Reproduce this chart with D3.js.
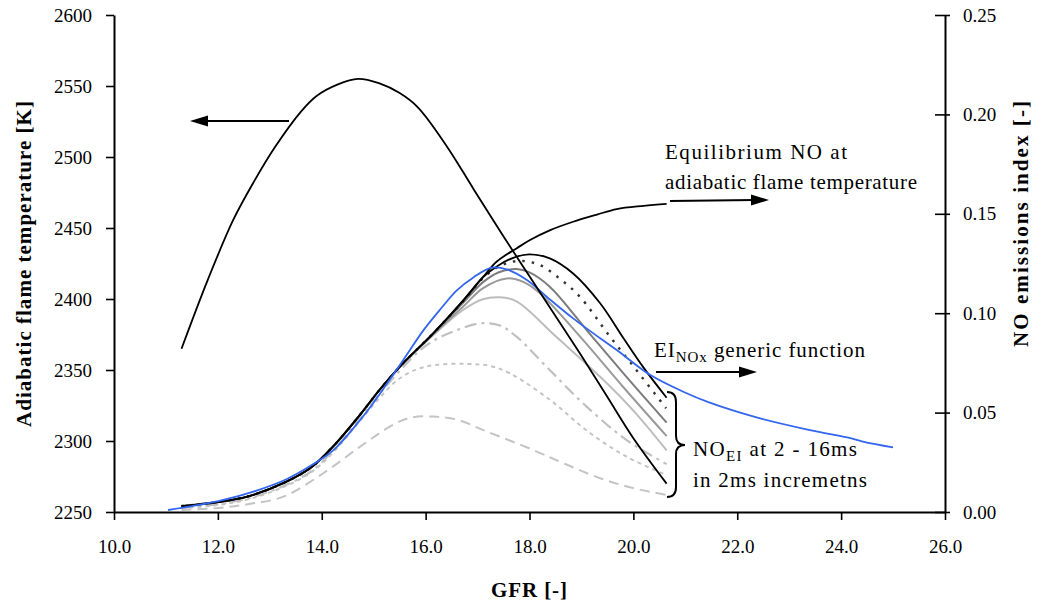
<!DOCTYPE html>
<html>
<head>
<meta charset="utf-8">
<script src="https://cdn.jsdelivr.net/npm/d3@7"></script>
<style>
  body { margin: 0; background: #fff; }
  svg text { font-family: "Liberation Serif", "Noto Serif", "DejaVu Serif", "FreeSerif", "Times", serif; }
</style>
</head>
<body>
<div id="chart"></div>
<script>
// Data (GFR on x)
const xTicks = [10, 12, 14, 16, 18, 20, 22, 24, 26];
const leftTicks = [2250, 2300, 2350, 2400, 2450, 2500, 2550, 2600];
const rightTicks = [0, 0.05, 0.10, 0.15, 0.20, 0.25];

// adiabatic flame temperature [K] (left axis)
const tempGfr = [11.3, 11.8, 12.3, 12.7, 13.1, 13.6, 13.9, 14.3, 14.7, 15.1, 15.5, 15.85, 16.4, 16.93, 17.5, 18.0, 18.5, 19.0, 19.5, 20.0, 20.64];
const tempK = [2365, 2413, 2456, 2483, 2507, 2532, 2543, 2551, 2555, 2552, 2545, 2535, 2508, 2477, 2444, 2416, 2388, 2360, 2331, 2302, 2270];

// equilibrium NO at adiabatic flame temperature (right axis)
const eqGfr = [11.3, 12.0, 12.6, 13.3, 13.8, 14.22, 14.74, 15.1, 15.5, 16.15, 16.73, 17.1, 17.37, 17.75, 18.01, 18.4, 18.84, 19.3, 19.68, 20.2, 20.64];
const eqNo = [0.003, 0.005, 0.008, 0.015, 0.0225, 0.033, 0.049, 0.061, 0.073, 0.090, 0.1066, 0.118, 0.126, 0.1326, 0.1368, 0.1418, 0.146, 0.1496, 0.1524, 0.154, 0.155];

// EI NOx generic function (blue)
const genGfr = [11.04, 11.5, 12.01, 12.62, 13.32, 13.8, 14.22, 14.74, 14.99, 15.57, 15.96, 16.3, 16.6, 16.92, 17.27, 17.56, 17.95, 18.33, 18.84, 19.36, 19.68, 20.32, 20.96, 21.47, 22.44, 23.4, 24.2, 24.4, 25.0];
const genNo = [0.001, 0.003, 0.0055, 0.0097, 0.0165, 0.0235, 0.031, 0.0463, 0.0547, 0.0765, 0.0915, 0.1025, 0.1115, 0.118, 0.1229, 0.1221, 0.1167, 0.1083, 0.0974, 0.0874, 0.0815, 0.069, 0.0605, 0.055, 0.0471, 0.0412, 0.037, 0.0355, 0.0325];

// NO_EI at residence times 2..16 ms
const noei16Gfr = [11.3, 12.0, 12.6, 13.3, 13.8, 14.22, 14.74, 15.1, 15.5, 16.15, 16.73, 17.1, 17.4, 17.7, 18.0, 18.39, 18.84, 19.36, 19.81, 20.2, 20.64];
const noei16 = [0.003, 0.005, 0.008, 0.015, 0.0225, 0.033, 0.049, 0.061, 0.073, 0.090, 0.1066, 0.118, 0.124, 0.128, 0.1296, 0.1276, 0.120, 0.105, 0.0874, 0.0725, 0.0575];
const noei14Gfr = [11.3, 12.0, 12.6, 13.3, 13.8, 14.22, 14.74, 15.1, 15.5, 16.15, 16.73, 17.1, 17.45, 17.82, 18.2, 18.6, 18.97, 19.55, 20.1, 20.63];
const noei14 = [0.003, 0.005, 0.008, 0.015, 0.0225, 0.033, 0.049, 0.061, 0.073, 0.090, 0.1062, 0.1175, 0.124, 0.1263, 0.1242, 0.117, 0.1083, 0.0882, 0.070, 0.0522];
const noei12Gfr = [11.3, 12.0, 12.6, 13.3, 13.8, 14.22, 14.74, 15.1, 15.5, 16.15, 16.73, 17.1, 17.4, 17.75, 18.0, 18.39, 19.1, 19.8, 20.64];
const noei12 = [0.003, 0.005, 0.008, 0.015, 0.0225, 0.033, 0.049, 0.061, 0.073, 0.0898, 0.1055, 0.1155, 0.1205, 0.1222, 0.1205, 0.1133, 0.0915, 0.070, 0.045];
const noei10Gfr = [11.3, 12.0, 12.6, 13.3, 13.8, 14.22, 14.74, 15.1, 15.5, 16.15, 16.73, 17.1, 17.56, 17.9, 18.2, 19.0, 19.8, 20.64];
const noei10 = [0.003, 0.005, 0.008, 0.015, 0.0225, 0.033, 0.049, 0.061, 0.073, 0.0895, 0.1035, 0.1125, 0.1175, 0.1155, 0.110, 0.0875, 0.063, 0.0382];
const noei8Gfr = [11.3, 12.0, 12.6, 13.3, 13.8, 14.22, 14.74, 15.1, 15.5, 16.15, 16.72, 17.1, 17.43, 17.75, 18.52, 19.36, 20.0, 20.64];
const noei8 = [0.003, 0.005, 0.008, 0.015, 0.0225, 0.033, 0.049, 0.061, 0.0728, 0.089, 0.1016, 0.107, 0.108, 0.106, 0.088, 0.068, 0.051, 0.031];
const noei6Gfr = [11.3, 12.0, 12.6, 13.3, 13.8, 14.22, 14.74, 15.1, 15.5, 15.9, 16.21, 16.6, 17.05, 17.43, 17.75, 18.39, 19.1, 19.87, 20.64];
const noei6 = [0.002, 0.004, 0.007, 0.0135, 0.0205, 0.031, 0.047, 0.059, 0.071, 0.0815, 0.087, 0.0915, 0.0949, 0.0938, 0.0882, 0.0714, 0.053, 0.0362, 0.0241];
const noei4Gfr = [11.3, 12.0, 12.6, 13.3, 13.8, 14.22, 14.74, 15.1, 15.44, 15.8, 16.2, 16.8, 17.24, 17.62, 18.4, 19.1, 19.87, 20.64];
const noei4 = [0.002, 0.0035, 0.0065, 0.013, 0.020, 0.030, 0.046, 0.057, 0.066, 0.0715, 0.074, 0.0745, 0.0735, 0.0698, 0.0563, 0.041, 0.0278, 0.0186];
const noei2Gfr = [11.3, 12.0, 12.6, 13.26, 14.03, 14.74, 15.31, 15.7, 16.15, 16.6, 17.11, 18.07, 18.7, 19.36, 20.0, 20.64];
const noei2 = [0.001, 0.002, 0.004, 0.0077, 0.0195, 0.0329, 0.0429, 0.0474, 0.048, 0.0465, 0.0412, 0.0312, 0.024, 0.017, 0.012, 0.0086];

const width = 1045, height = 608;
const svg = d3.select("#chart").append("svg")
    .attr("width", width)
    .attr("height", height);

const x = d3.scaleLinear().domain([10, 26]).range([114, 945]);
const yL = d3.scaleLinear().domain([2250, 2600]).range([512, 15]);
const yR = d3.scaleLinear().domain([0, 0.25]).range([512, 15]);

// axes
const gx = svg.append("g")
    .attr("transform", "translate(0,512)")
    .call(d3.axisBottom(x).tickValues(xTicks).tickFormat(d3.format(".1f"))
        .tickSize(8).tickSizeOuter(0).tickPadding(20));
const gl = svg.append("g")
    .attr("transform", "translate(114,0)")
    .call(d3.axisLeft(yL).tickValues(leftTicks).tickFormat(d3.format("d"))
        .tickSize(8).tickSizeOuter(0).tickPadding(14));
const gr = svg.append("g")
    .attr("transform", "translate(945,0)")
    .call(d3.axisRight(yR).tickValues(rightTicks).tickFormat(d3.format(".2f"))
        .tickSize(5).tickSizeOuter(0).tickPadding(13));
gr.selectAll(".tick line").attr("x1", -10);

[gx, gl, gr].forEach(g => {
    g.attr("font-family", null);
    g.select(".domain").attr("stroke", "#000").attr("stroke-width", 2);
    g.selectAll(".tick line").attr("stroke", "#000").attr("stroke-width", 1.6);
    g.selectAll(".tick text")
        .attr("font-size", 19)
        .attr("fill", "#000");
});

// axis titles
svg.append("text")
    .attr("transform", "translate(31,264) rotate(-90)")
    .attr("text-anchor", "middle")
    .attr("font-size", 21)
    .attr("font-weight", "bold")
    .attr("textLength", 326)
    .text("Adiabatic flame temperature [K]");
svg.append("text")
    .attr("transform", "translate(1028,224) rotate(-90)")
    .attr("text-anchor", "middle")
    .attr("font-size", 21)
    .attr("font-weight", "bold")
    .attr("textLength", 246)
    .text("NO emissions index [-]");
svg.append("text")
    .attr("x", 529).attr("y", 597)
    .attr("text-anchor", "middle")
    .attr("font-size", 21)
    .attr("font-weight", "bold")
    .attr("textLength", 76)
    .text("GFR [-]");

// series
const zip = (a, b) => a.map((v, i) => [v, b[i]]);
const lineR = d3.line().x(d => x(d[0])).y(d => yR(d[1])).curve(d3.curveCatmullRom.alpha(0.5));
const lineL = d3.line().x(d => x(d[0])).y(d => yL(d[1])).curve(d3.curveCatmullRom.alpha(0.5));

const bundle = [
    { gfr: noei2Gfr, v: noei2, color: "#c4c4c4", w: 2, dash: "10,6" },
    { gfr: noei4Gfr, v: noei4, color: "#c4c4c4", w: 2, dash: "4,4" },
    { gfr: noei6Gfr, v: noei6, color: "#c0c0c0", w: 2.2, dash: "12,5,3,5" },
    { gfr: noei8Gfr, v: noei8, color: "#bdbdbd", w: 2, dash: null },
    { gfr: noei10Gfr, v: noei10, color: "#9a9a9a", w: 2, dash: null },
    { gfr: noei12Gfr, v: noei12, color: "#7c7c7c", w: 2, dash: null },
    { gfr: noei14Gfr, v: noei14, color: "#333", w: 2.4, dash: "2.5,7" },
    { gfr: noei16Gfr, v: noei16, color: "#000", w: 1.8, dash: null }
];

bundle.forEach(s => {
    svg.append("path")
        .datum(zip(s.gfr, s.v))
        .attr("d", lineR)
        .attr("fill", "none")
        .attr("stroke", s.color)
        .attr("stroke-width", s.w)
        .attr("stroke-dasharray", s.dash);
});

svg.append("path")
    .datum(zip(eqGfr, eqNo))
    .attr("d", lineR)
    .attr("fill", "none")
    .attr("stroke", "#000")
    .attr("stroke-width", 1.8);

svg.append("path")
    .datum(zip(genGfr, genNo))
    .attr("d", lineR)
    .attr("fill", "none")
    .attr("stroke", "#3366ee")
    .attr("stroke-width", 1.8);

svg.append("path")
    .datum(zip(tempGfr, tempK))
    .attr("d", lineL)
    .attr("fill", "none")
    .attr("stroke", "#000")
    .attr("stroke-width", 1.8);

// annotations
function arrow(x1, y1, x2, y2) {
    const dir = Math.sign(x2 - x1);
    svg.append("line")
        .attr("x1", x1).attr("y1", y1)
        .attr("x2", x2 - dir * 14).attr("y2", y2)
        .attr("stroke", "#000").attr("stroke-width", 2.2);
    svg.append("path")
        .attr("d", `M${x2},${y2} L${x2 - dir * 18},${y2 - 5.5} L${x2 - dir * 18},${y2 + 5.5} Z`)
        .attr("fill", "#000");
}
arrow(289, 121, 190, 121);
arrow(670, 201, 769, 200);
arrow(656, 372, 757, 372);

svg.append("text").attr("x", 665).attr("y", 159).attr("font-size", 21)
    .attr("textLength", 182)
    .text("Equilibrium NO at");
svg.append("text").attr("x", 665).attr("y", 189).attr("font-size", 21)
    .attr("textLength", 252)
    .text("adiabatic flame temperature");

const ei = svg.append("text").attr("x", 654).attr("y", 357).attr("font-size", 21)
    .attr("textLength", 211);
ei.append("tspan").text("EI");
ei.append("tspan").attr("font-size", 15).attr("dy", 5).text("NOx");
ei.append("tspan").attr("dy", -5).text(" generic function");

const noe = svg.append("text").attr("x", 693).attr("y", 456).attr("font-size", 21)
    .attr("textLength", 164);
noe.append("tspan").text("NO");
noe.append("tspan").attr("font-size", 15).attr("dy", 5).text("EI");
noe.append("tspan").attr("dy", -5).text(" at 2 - 16ms");
svg.append("text").attr("x", 693).attr("y", 487).attr("font-size", 21)
    .attr("textLength", 174)
    .text("in 2ms incremetns");

// brace
svg.append("path")
    .attr("d", "M667,392 Q676,392 676,402 L676,436 Q676,445 685,445 Q676,445 676,454 L676,487 Q676,497 667,497")
    .attr("fill", "none")
    .attr("stroke", "#000")
    .attr("stroke-width", 2);
</script>
</body>
</html>
